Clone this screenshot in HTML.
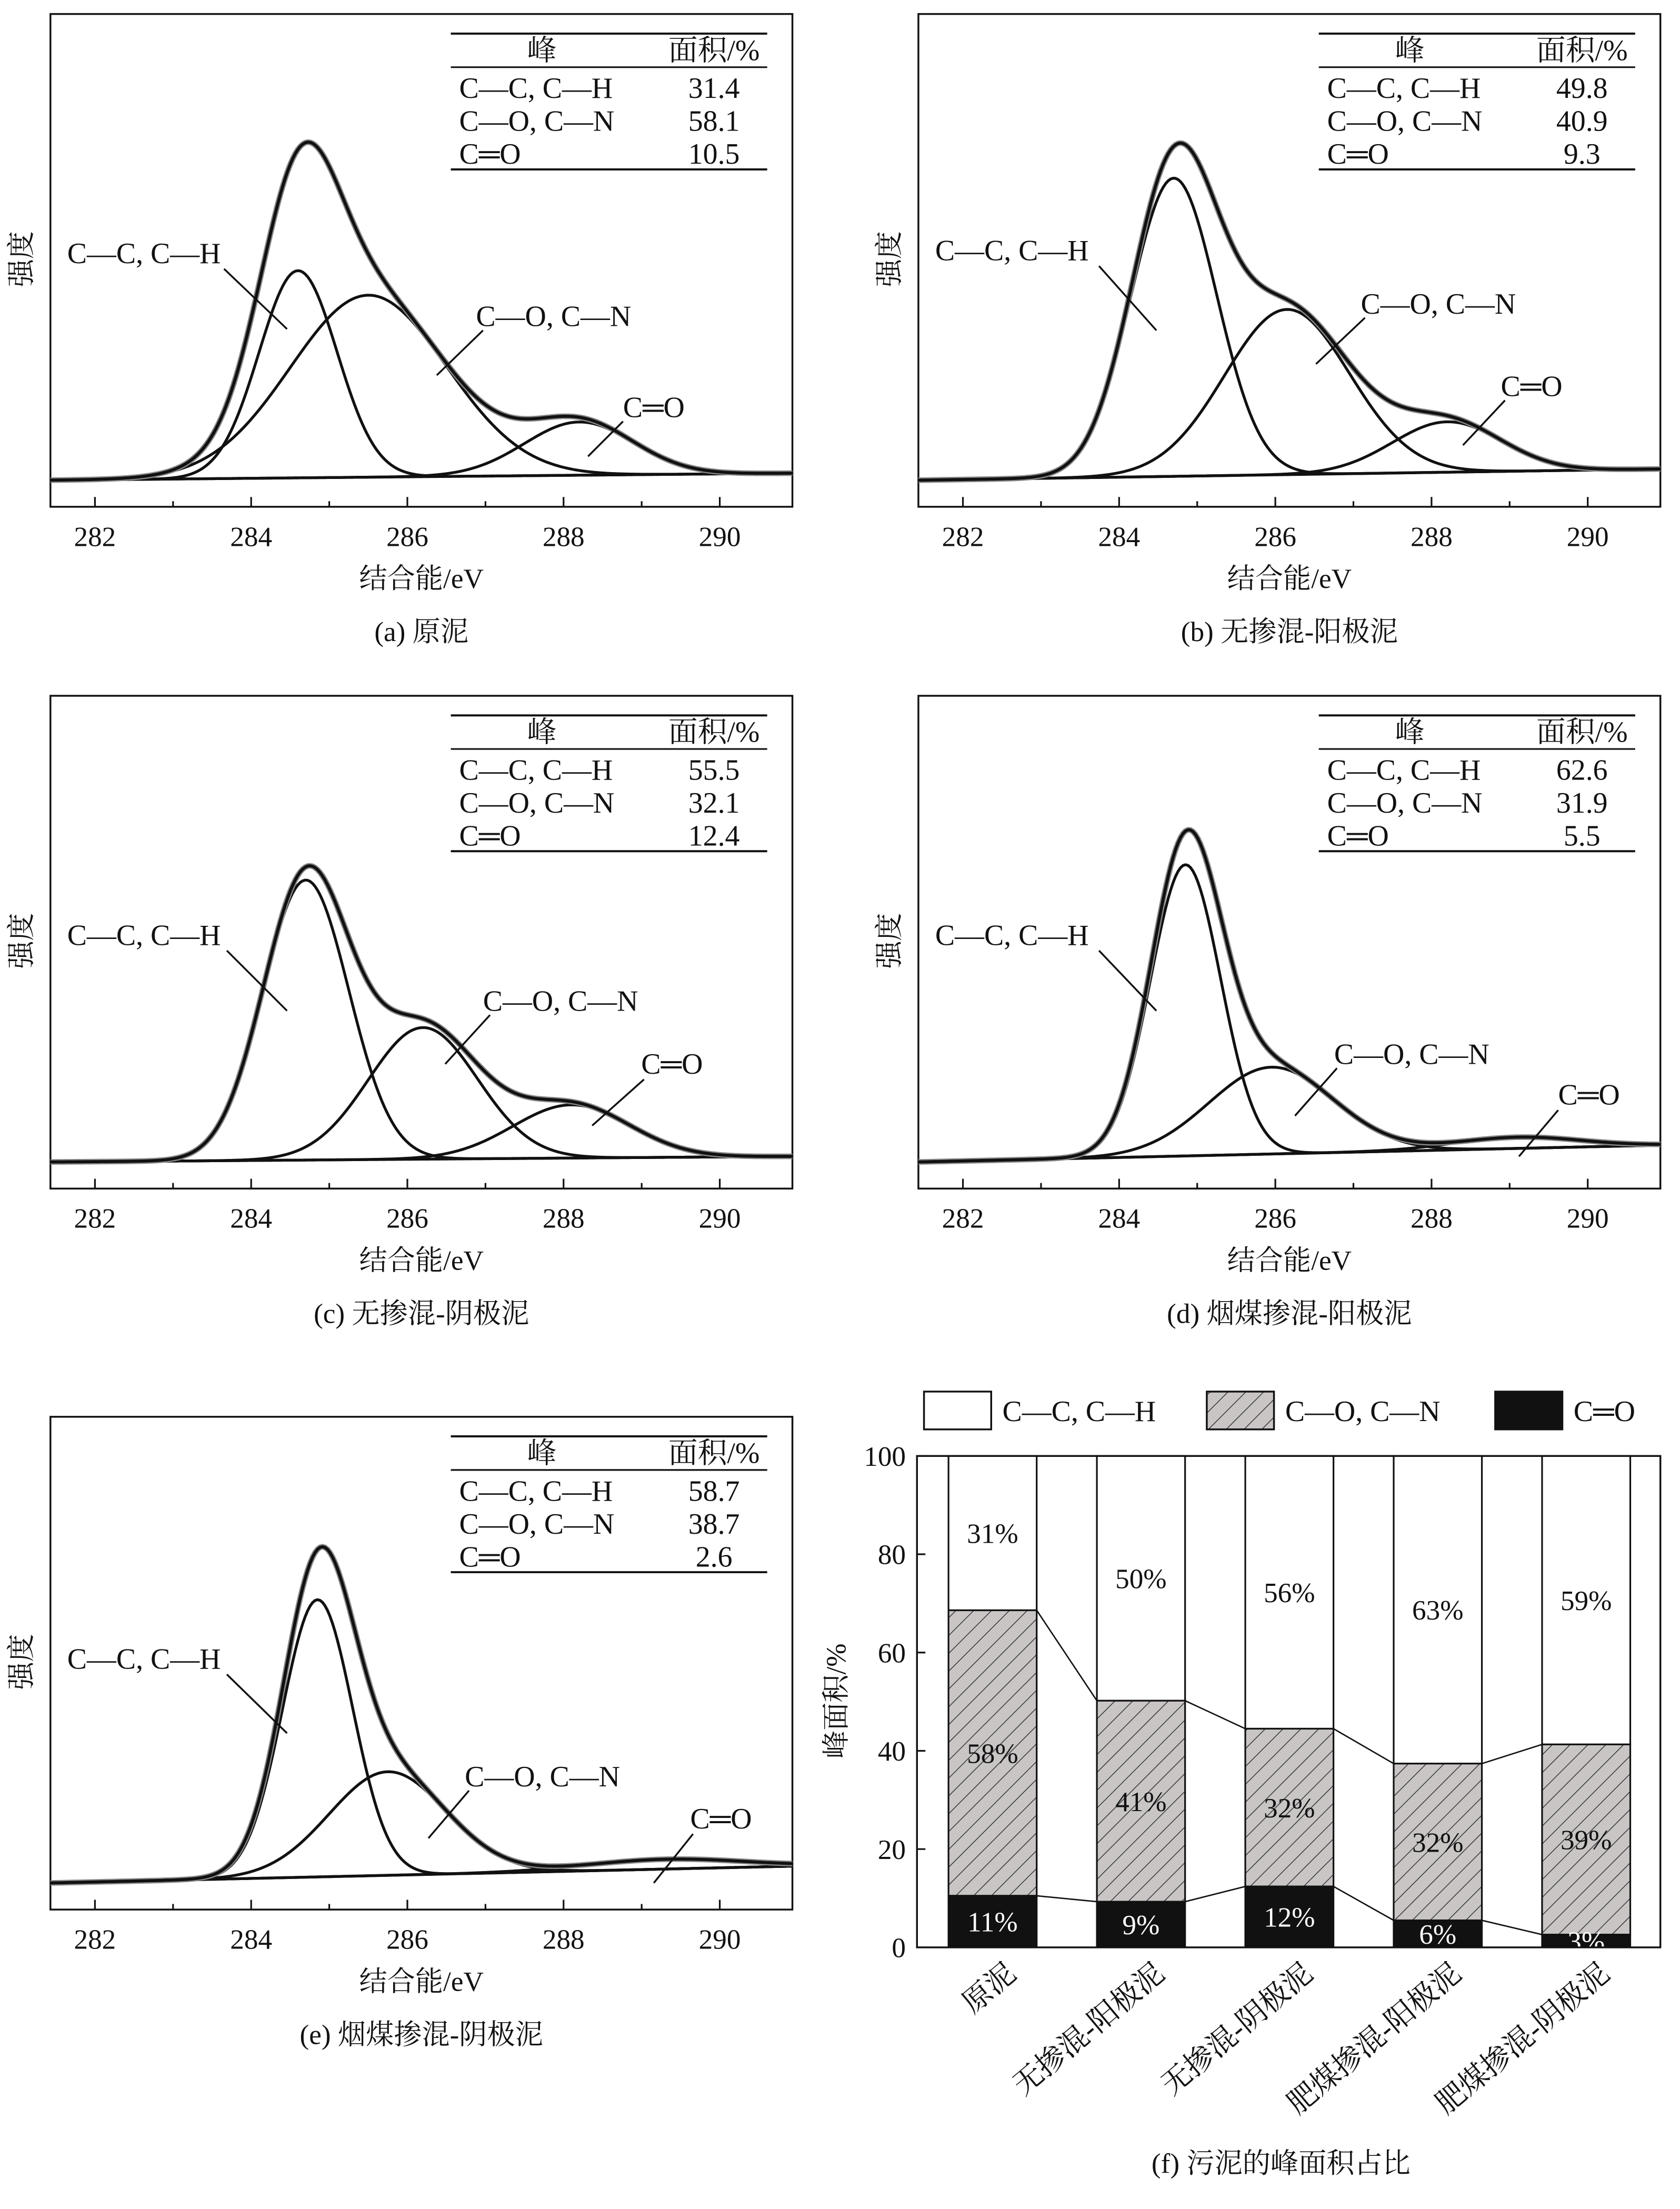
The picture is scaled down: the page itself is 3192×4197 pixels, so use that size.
<!DOCTYPE html>
<html><head><meta charset="utf-8">
<style>
html,body{margin:0;padding:0;background:#fff;}
svg text{font-family:"Liberation Serif","Noto Serif CJK SC","Noto Sans CJK SC",serif;fill:#111;}
</style></head>
<body>
<svg id="fig" xmlns="http://www.w3.org/2000/svg" width="3192" height="4192" viewBox="0 0 1200 1576">
<defs>
<pattern id="hatch" patternUnits="userSpaceOnUse" width="9" height="9" patternTransform="rotate(45)">
<rect width="9" height="9" fill="#c9c5c5"/><line x1="0" y1="0" x2="0" y2="9" stroke="#333" stroke-width="1.1"/>
</pattern>
</defs>
<rect width="1200" height="1576" fill="#fff"/>
</svg>
<script>
// ---------- XPS panel data ----------
const panelIds = ['a','b','c','d','e'];
const captions = ['(a) 原泥','(b) 无掺混-阳极泥','(c) 无掺混-阴极泥','(d) 烟煤掺混-阳极泥','(e) 烟煤掺混-阴极泥'];
const peakNames = ['C—C, C—H','C—O, C—N','C═O'];
const areaCC = [31.4, 49.8, 55.5, 62.6, 58.7];
const areaCO = [58.1, 40.9, 32.1, 31.9, 38.7];
const areaCdO = [10.5, 9.3, 12.4, 5.5, 2.6];
const centerCC = [284.6, 284.7, 284.7, 284.85, 284.85];
const centerCO = [285.5, 286.15, 286.2, 285.95, 285.75];
const centerCdO = [288.2, 288.2, 288.1, 289.1, 289.3];
const heightCC = [148, 213, 200, 208, 198];
const heightCO = [130, 118, 94, 62, 74];
const heightCdO = [38, 36, 38, 8, 7];
const sigmaCC = [0.5, 0.55, 0.55, 0.45, 0.45];
const sigmaCO = [1.0, 0.8, 0.7, 0.8, 0.75];
const sigmaCdO = [0.7, 0.7, 0.75, 0.8, 1.0];
const bgLeft = [0, 0, 0, 0, 0];
const bgRise = [5, 8, 4, 12, 12];
const xTicks = [282, 284, 286, 288, 290];
// ---------- bar chart data ----------
const barCats = ['原泥','无掺混-阳极泥','无掺混-阴极泥','肥煤掺混-阳极泥','肥煤掺混-阴极泥'];
const barCdO = [10.5, 9.3, 12.4, 5.5, 2.6];
const barCO = [58.1, 40.9, 32.1, 31.9, 38.7];
const barCC = [31.4, 49.8, 55.5, 62.6, 58.7];
const lblCC = ['31%','50%','56%','63%','59%'];
const lblCO = ['58%','41%','32%','32%','39%'];
const lblCdO = ['11%','9%','12%','6%','3%'];
const yTicks = [0,20,40,60,80,100];

const NS='http://www.w3.org/2000/svg';
const svg=document.getElementById('fig');
function mk(tag,attrs,parent,text){const e=document.createElementNS(NS,tag);for(const k in attrs)e.setAttribute(k,attrs[k]);if(text!==undefined)e.textContent=text;(parent||svg).appendChild(e);return e;}

const panelPos=[[36,10],[656,10],[36,497],[656,497],[36,1012]];
const annot=[
 [[48,188,160,192,205,235],[340,233,345,236,312,268],[445,298,445,301,420,326]],
 [[668,186,785,190,826,236],[972,224,975,227,940,260],[1072,283,1075,286,1045,318]],
 [[48,675,162,679,205,722],[345,722,350,725,318,760],[458,767,460,771,423,804]],
 [[668,675,785,679,826,722],[953,760,955,763,925,797],[1113,789,1113,793,1085,826]],
 [[48,1192,162,1196,205,1238],[332,1276,335,1279,306,1313],[493,1306,495,1310,467,1345]]
];
const W=530,H=352,E0=281.43,E1=290.93;
panelIds.forEach((id,i)=>{
  const [L,T]=panelPos[i];
  const g=mk('g',{},svg);
  
  
  const xs=e=>L+(e-E0)/(E1-E0)*W;
  const base=T+H-19;
  const bg=e=>base-bgLeft[i]-bgRise[i]*(e-E0)/(E1-E0);
  const gauss=(e,c,h,s)=>h*Math.exp(-0.5*((e-c)/s)**2);
  const comps=[[centerCC[i],heightCC[i],sigmaCC[i]],[centerCO[i],heightCO[i],sigmaCO[i]],[centerCdO[i],heightCdO[i],sigmaCdO[i]]];
  const fr=mk('rect',{x:L,y:T,width:W,height:H,fill:'none',stroke:'#111','stroke-width':1.3},g);
  
  for(let e=282;e<=290;e++){const x=xs(e);mk('line',{x1:x,x2:x,y1:T+H,y2:T+H-(e%2?4:7),stroke:'#111','stroke-width':1.2},g);}
  xTicks.forEach(t=>{const tx=mk('text',{x:xs(t),y:T+H+28,'text-anchor':'middle','font-size':20},g,String(t));});
  const xl=mk('text',{x:L+W/2,y:T+H+58,'text-anchor':'middle','font-size':20},g,'结合能/eV');
  const cap=mk('text',{x:L+W/2,y:T+H+96,'text-anchor':'middle','font-size':20},g,captions[i]);
  const yl=mk('text',{x:L-14,y:T+175,'text-anchor':'middle','font-size':20,transform:`rotate(-90 ${L-14} ${T+175})`},g,'强度');
  const N=300;
  const pathFor=f=>{let d='';for(let k=0;k<=N;k++){const e=E0+(E1-E0)*k/N;d+=(k?'L':'M')+xs(e).toFixed(2)+','+f(e).toFixed(2);}return d;};
  const bl=mk('path',{d:pathFor(bg),fill:'none',stroke:'#111','stroke-width':2},g);
  comps.forEach((c,j)=>{const p=mk('path',{d:pathFor(e=>bg(e)-gauss(e,...c)),fill:'none',stroke:'#111','stroke-width':2},g);});
  const tot=e=>bg(e)-comps.reduce((s,c)=>s+gauss(e,...c),0);
  const raw=mk('path',{d:pathFor(tot),fill:'none',stroke:'#888','stroke-width':4},g);
  const tp=mk('path',{d:pathFor(tot),fill:'none',stroke:'#111','stroke-width':2.2},g);
  annot[i].forEach((a,j)=>{const t=mk('text',{x:a[0],y:a[1],'font-size':21},g,peakNames[j]);
    const ln=mk('line',{x1:a[2],y1:a[3],x2:a[4],y2:a[5],stroke:'#111','stroke-width':1.3},g);});
  const tL=L+286,tR=L+512;
  const tb=mk('g',{},g);
  mk('line',{x1:tL,x2:tR,y1:T+14,y2:T+14,stroke:'#111','stroke-width':1.5},tb);
  mk('line',{x1:tL,x2:tR,y1:T+38,y2:T+38,stroke:'#111','stroke-width':1.2},tb);
  mk('line',{x1:tL,x2:tR,y1:T+111,y2:T+111,stroke:'#111','stroke-width':1.5},tb);
  mk('text',{x:L+351,y:T+33,'text-anchor':'middle','font-size':21},tb,'峰');
  mk('text',{x:L+474,y:T+33,'text-anchor':'middle','font-size':21},tb,'面积/%');
  const vals=[areaCC[i],areaCO[i],areaCdO[i]];
  vals.forEach((v,j)=>{mk('text',{x:L+292,y:T+60+j*23.5,'font-size':21},tb,peakNames[j]);mk('text',{x:L+474,y:T+60+j*23.5,'text-anchor':'middle','font-size':21},tb,v.toFixed(1));});
});

// ---------- bar chart ----------
const bL=655,bR=1186,bT=1040,bB=1391;
const ys=v=>bB-v/100*(bB-bT);
const barW=63;
const bxc=k=>bL+54+k*106;
const bc=mk('g',{},svg);
const legItems=[['#fff','C—C, C—H',660],['url(#hatch)','C—O, C—N',862],['#111','C═O',1068]];
legItems.forEach(l=>{const lg=mk('g',{},bc);
  mk('rect',{x:l[2],y:994,width:48,height:27,fill:l[0],stroke:'#111','stroke-width':1.3},lg);
  mk('text',{x:l[2]+56,y:1015,'font-size':21},lg,l[1]);});
barCats.forEach((c,k)=>{
  const x=bxc(k)-barW/2;
  const a=barCdO[k],b=barCO[k];
  const g=mk('g',{},bc);
  mk('rect',{x:x,y:ys(100),width:barW,height:ys(a+b)-ys(100),fill:'#fff',stroke:'#111','stroke-width':1.2},g);
  mk('rect',{x:x,y:ys(a+b),width:barW,height:ys(a)-ys(a+b),fill:'url(#hatch)',stroke:'#111','stroke-width':1.2},g);
  mk('rect',{x:x,y:ys(a),width:barW,height:ys(0)-ys(a),fill:'#111',stroke:'#111','stroke-width':1.2},g);
  mk('text',{x:bxc(k),y:ys((100+a+b)/2)+7,'text-anchor':'middle','font-size':20},g,lblCC[k]);
  mk('text',{x:bxc(k),y:ys(a+b/2)+7,'text-anchor':'middle','font-size':20},g,lblCO[k]);
  mk('text',{x:bxc(k),y:ys(a/2)+7,'text-anchor':'middle','font-size':20,style:'fill:#fff'},g,lblCdO[k]);
  if(k<barCats.length-1){
    const x1=bxc(k)+barW/2,x2=bxc(k+1)-barW/2;
    mk('line',{x1:x1,x2:x2,y1:ys(a+b),y2:ys(barCdO[k+1]+barCO[k+1]),stroke:'#111','stroke-width':1},bc);
    mk('line',{x1:x1,x2:x2,y1:ys(a),y2:ys(barCdO[k+1]),stroke:'#111','stroke-width':1},bc);
  }
  const cl=mk('text',{x:bxc(k)+18,y:1412,'text-anchor':'end','font-size':21,transform:`rotate(-40 ${bxc(k)+18} 1412)`},bc,c);
  
});
const frm=mk('rect',{x:bL,y:bT,width:bR-bL,height:bB-bT,fill:'none',stroke:'#111','stroke-width':1.3},bc);

yTicks.forEach(t=>{mk('line',{x1:bL,x2:bL+6,y1:ys(t),y2:ys(t),stroke:'#111','stroke-width':1.2},bc);
  const tx=mk('text',{x:bL-8,y:ys(t)+7,'text-anchor':'end','font-size':20},bc,String(t));});
const byl=mk('text',{x:604,y:1215,'text-anchor':'middle','font-size':20,transform:'rotate(-90 604 1215)'},bc,'峰面积/%');

const bcap=mk('text',{x:915,y:1552,'text-anchor':'middle','font-size':20},bc,'(f) 污泥的峰面积占比');

</script>
</body></html>
